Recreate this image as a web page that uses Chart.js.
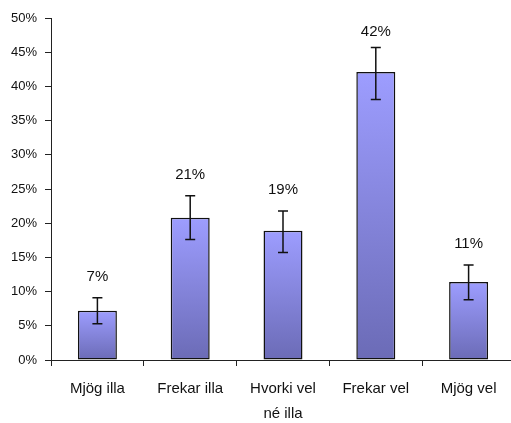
<!DOCTYPE html>
<html>
<head>
<meta charset="utf-8">
<script src="https://cdn.jsdelivr.net/npm/chart.js@4/dist/chart.umd.min.js"></script>
<style>
    html, body { margin: 0; padding: 0; background: #fff; overflow: hidden; }
    #wrap { width: 516px; height: 423px; position: relative; }
</style>
</head>
<body>
<div id="wrap"><canvas id="answerChart"></canvas></div>
<script>
// Data (percent)
const categories = [["Mjög illa"], ["Frekar illa"], ["Hvorki vel", "né illa"], ["Frekar vel"], ["Mjög vel"]];
const shares = [7.2, 20.8, 18.9, 42.1, 11.4];
const errLow = [5.3, 17.6, 15.7, 38.1, 8.8];
const errHigh = [9.1, 24.0, 21.8, 45.7, 13.9];
const valueLabels = ["7%", "21%", "19%", "42%", "11%"];

// error bars with caps
const errorBars = {
    id: "errorBars",
    afterDatasetsDraw(chart) {
        const ctx = chart.ctx;
        const meta = chart.getDatasetMeta(0);
        const y = chart.scales.y;
        ctx.save();
        ctx.strokeStyle = "#111";
        ctx.lineWidth = 1.5;
        meta.data.forEach((bar, i) => {
            const top = y.getPixelForValue(errHigh[i]);
            const bot = y.getPixelForValue(errLow[i]);
            ctx.beginPath();
            ctx.moveTo(bar.x, top);
            ctx.lineTo(bar.x, bot);
            ctx.moveTo(bar.x - 5, top);
            ctx.lineTo(bar.x + 5, top);
            ctx.moveTo(bar.x - 5, bot);
            ctx.lineTo(bar.x + 5, bot);
            ctx.stroke();
        });
        // value labels above the error bars (kept inside the plot)
        ctx.fillStyle = "#111";
        ctx.font = "15px 'Liberation Sans', Arial, sans-serif";
        ctx.textAlign = "center";
        ctx.textBaseline = "middle";
        meta.data.forEach((bar, i) => {
            const ly = Math.max(y.getPixelForValue(errHigh[i]) - 21, chart.chartArea.top + 14);
            ctx.fillText(valueLabels[i], bar.x, ly);
        });
        ctx.restore();
    }
};

function barGradient(context) {
    const chart = context.chart;
    if (!chart.chartArea) return "#9999ff";
    const y = chart.scales.y;
    const top = y.getPixelForValue(shares[context.dataIndex]);
    const bottom = y.getPixelForValue(0);
    const g = chart.ctx.createLinearGradient(0, top, 0, bottom);
    g.addColorStop(0, "#9d9dff");
    g.addColorStop(1, "#6b6bb6");
    return g;
}

new Chart(document.getElementById("answerChart"), {
    type: "bar",
    data: {
        labels: categories,
        datasets: [{
            data: shares,
            backgroundColor: barGradient,
            borderColor: "#111",
            borderWidth: 1.5,
            borderSkipped: false,
            categoryPercentage: 1,
            barPercentage: 0.42
        }]
    },
    options: {
        responsive: true,
        maintainAspectRatio: false,
        animation: false,
        layout: { padding: { top: 18, right: 1, left: 0, bottom: 0 } },
        plugins: {
            legend: { display: false },
            tooltip: { enabled: false }
        },
        scales: {
            x: {
                offset: true,
                grid: {
                    offset: true,
                    drawOnChartArea: false,
                    tickLength: 6,
                    color: "#222"
                },
                border: { color: "#222", width: 1 },
                ticks: {
                    color: "#111",
                    padding: 10,
                    maxRotation: 0,
                    font: { family: "'Liberation Sans', Arial, sans-serif", size: 15, lineHeight: 1.67 }
                },
                afterFit(scale) { scale.height = 63; }
            },
            y: {
                min: 0,
                max: 50,
                grid: {
                    drawOnChartArea: false,
                    tickLength: 6,
                    color: "#222"
                },
                border: { color: "#222", width: 1 },
                ticks: {
                    stepSize: 5,
                    color: "#111",
                    padding: 8,
                    font: { family: "'Liberation Sans', Arial, sans-serif", size: 13 },
                    callback: v => v + "%"
                },
                afterFit(scale) { scale.width = 51; }
            }
        }
    },
    plugins: [errorBars]
});
</script>
</body>
</html>
